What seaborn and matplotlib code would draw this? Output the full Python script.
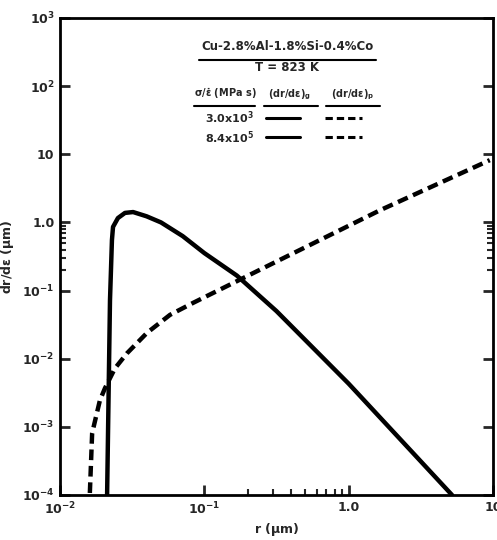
import matplotlib
matplotlib.use("Agg")
import matplotlib.pyplot as plt
import seaborn as sns
import pandas as pd
from matplotlib.ticker import FixedLocator, NullFormatter
from matplotlib.lines import Line2D

# ======================
# DATA
# ======================
r_glide = [0.0212, 0.0222, 0.0229, 0.0233, 0.0252, 0.0282, 0.0321, 0.0398,
           0.0501, 0.0708, 0.1, 0.168, 0.316, 1.0, 5.2]
dr_glide = [1e-4, 0.072, 0.55, 0.86, 1.16, 1.38, 1.42, 1.23,
            1.0, 0.63, 0.355, 0.166, 0.050, 0.0043, 1e-4]

r_pipe = [0.0161, 0.0167, 0.0189, 0.0205, 0.024, 0.0291, 0.0401, 0.0578,
          0.0836, 1.65, 9.5]
dr_pipe = [1.07e-4, 8.1e-4, 2.45e-3, 3.7e-3, 7.2e-3, 0.012, 0.024, 0.044,
           0.066, 1.51, 8.2]

y_ticks = [1e-4, 1e-3, 1e-2, 1e-1, 1, 10, 100, 1000]
y_labels = [r"$10^{-4}$", r"$10^{-3}$", r"$10^{-2}$", r"$10^{-1}$", "1.0", "10",
            r"$10^{2}$", r"$10^{3}$"]
x_ticks = [0.01, 0.1, 1, 10]
x_labels = [r"$10^{-2}$", r"$10^{-1}$", "1.0", "10"]
minor_ticks = [0.2, 0.3, 0.4, 0.5, 0.6, 0.7, 0.8, 0.9]

# ======================
# STYLE
# ======================
sns.set_style("white")
plt.rcParams["font.family"] = ["DejaVu Sans"]
plt.rcParams["font.weight"] = "bold"
plt.rcParams["mathtext.fontset"] = "dejavusans"
plt.rcParams["mathtext.default"] = "bf"

DASH = (0, (2.4, 1.3))

fig = plt.figure(figsize=(4.97, 5.40), dpi=100)
ax = fig.add_axes([60 / 497, 1 - 495 / 540, 433 / 497, 477 / 540])

glide = pd.DataFrame({"r": r_glide, "v": dr_glide})
pipe = pd.DataFrame({"r": r_pipe, "v": dr_pipe})

sns.lineplot(data=glide, x="r", y="v", ax=ax, color="black", lw=3.2,
             estimator=None, sort=False)
sns.lineplot(data=pipe, x="r", y="v", ax=ax, color="black", lw=3.2,
             estimator=None, sort=False, linestyle=DASH)

ax.set_xscale("log")
ax.set_yscale("log")
ax.set_xlim(0.01, 10)
ax.set_ylim(1e-4, 1e3)

for s in ax.spines.values():
    s.set_linewidth(2)
    s.set_color("black")

ax.yaxis.set_major_locator(FixedLocator(y_ticks))
ax.set_yticklabels(y_labels)
ax.yaxis.set_minor_locator(FixedLocator(minor_ticks))
ax.yaxis.set_minor_formatter(NullFormatter())
ax.xaxis.set_major_locator(FixedLocator(x_ticks))
ax.set_xticklabels(x_labels)
ax.xaxis.set_minor_locator(FixedLocator(minor_ticks))
ax.xaxis.set_minor_formatter(NullFormatter())

ax.tick_params(which="major", direction="in", length=7, width=2,
               left=True, right=True, bottom=True, top=False,
               labelsize=9, pad=4)
ax.tick_params(which="minor", direction="in", length=4, width=1.5,
               left=True, right=True, bottom=True, top=False)

ax.set_xlabel(r"r ($\mu$m)", fontsize=9, fontweight="bold", labelpad=3)
ax.set_ylabel(r"dr/d$\varepsilon$ ($\mu$m)", fontsize=9, fontweight="bold",
              labelpad=4)

# ======================
# INSET LEGEND BLOCK
# ======================
tr = ax.transAxes
ax.text(0.525, 0.933, "Cu-2.8%Al-1.8%Si-0.4%Co", transform=tr, ha="center",
        va="baseline", fontsize=8.5)
ax.add_line(Line2D([0.32, 0.73], [0.912, 0.912], transform=tr, color="black", lw=1.5))
ax.text(0.525, 0.888, "T = 823 K", transform=tr, ha="center", va="baseline",
        fontsize=8.5)

ax.text(0.31, 0.834, r"$\sigma/\dot{\varepsilon}$ (MPa s)", transform=tr,
        ha="left", va="baseline", fontsize=7)
ax.text(0.53, 0.834, r"(dr/d$\varepsilon$)$_g$", transform=tr, ha="center",
        va="baseline", fontsize=7)
ax.text(0.675, 0.834, r"(dr/d$\varepsilon$)$_p$", transform=tr, ha="center",
        va="baseline", fontsize=7)
ax.add_line(Line2D([0.31, 0.45], [0.815, 0.815], transform=tr, color="black", lw=1.5))
ax.add_line(Line2D([0.47, 0.595], [0.815, 0.815], transform=tr, color="black", lw=1.5))
ax.add_line(Line2D([0.615, 0.74], [0.815, 0.815], transform=tr, color="black", lw=1.5))

for yy, lab in [(0.79, r"3.0x$10^{3}$"), (0.75, r"8.4x$10^{5}$")]:
    ax.text(0.335, yy, lab, transform=tr, ha="left", va="center", fontsize=8)
    ax.add_line(Line2D([0.475, 0.555], [yy, yy], transform=tr, color="black", lw=2.2))
    ax.add_line(Line2D([0.612, 0.697], [yy, yy], transform=tr, color="black", lw=2.2,
                       linestyle=DASH))

fig.savefig("out.png", dpi=100)
